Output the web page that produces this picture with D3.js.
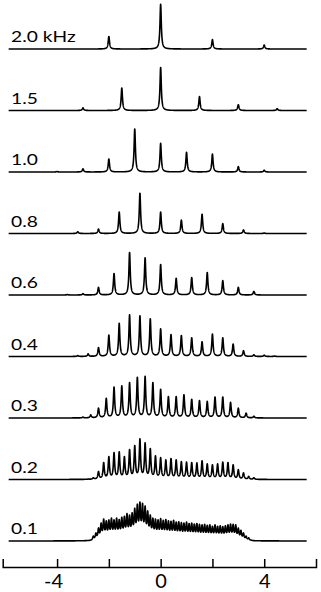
<!DOCTYPE html>
<html>
<head>
<meta charset="utf-8">
<script src="https://cdn.jsdelivr.net/npm/d3@7"></script>
<style>
  body { margin: 0; background: #fff; }
  svg { display: block; }
</style>
</head>
<body>
<div id="chart"></div>
<script>
// spinning rates (kHz), top to bottom, and their labels
const rates = [2.0, 1.5, 1.0, 0.8, 0.6, 0.4, 0.3, 0.2, 0.1];
const labels = ["2.0 kHz", "1.5", "1.0", "0.8", "0.6", "0.4", "0.3", "0.2", "0.1"];

// lowest sideband order shown in each spectrum
const firstOrder = [-1, -2, -4, -4, -6, -8, -10, -14, -27];

// sideband heights (relative, tallest ~100), from the lowest order upward
const h20 = [28, 100, 21, 9];
const h15 = [6, 50, 96, 31, 13, 4];
const h10 = [1, 7, 29, 96, 64, 44, 40, 12, 4];
const h08 = [4, 10, 48, 90, 48, 30, 43, 22, 8, 1];
const h06 = [1, 3, 17, 48, 95, 83, 68, 37, 39, 50, 32, 17, 8];
const h04 = [2, 6, 20, 48, 74, 93, 91, 84, 62, 49, 47, 42, 33, 50, 42, 28, 13, 4, 3, 1];
const h03 = [2, 7, 22, 44, 69, 72, 79, 91, 93, 79, 64, 48, 48, 52, 42, 39, 37, 47, 47, 35, 22, 11, 4];
const h02 = [1, 4, 18, 38, 51, 60, 62, 51, 67, 76, 91, 82, 69, 53, 49, 44, 47, 44, 40, 39, 38, 37, 42,
             35, 33, 35, 39, 38, 33, 22, 15, 7, 4];
const h01 = [2, 11, 18, 29, 40, 49, 45, 47, 51, 47, 51, 48, 53, 55, 61, 58, 63, 73, 82, 87,
             84, 78, 67, 58, 51, 49, 47, 50, 46, 48, 45, 44, 46, 42, 43, 41, 40, 42, 39, 40,
             38, 39, 37, 36, 37, 35, 36, 33, 36, 33, 34, 32, 34, 36, 38, 37, 36, 29, 24, 18,
             11, 7, 2];
const heights = [h20, h15, h10, h08, h06, h04, h03, h02, h01];

const axisTicks = [-4, -2, 0, 2, 4];
const axisLabels = [-4, 0, 4];

const width = 321, height = 592;
const gamma = 0.03; // line half-width, kHz
const span = [-5.87, 5.64];

const svg = d3.select("#chart").append("svg")
    .attr("width", width)
    .attr("height", height);

const x = d3.scaleLinear().domain([-6.1, 6]).range([2.7, 316]);
const base = d3.scalePoint().domain(labels).range([49, 541]);
const amp = d3.scaleLinear().domain([0, 100]).range([0, 45]);

const lor = dx => gamma * gamma / (gamma * gamma + dx * dx);

// adjust amplitudes so the summed lines reach the read peak heights
function fitAmps(pos, target) {
    let a = target.slice();
    for (let it = 0; it < 40; it++) {
        a = a.map((ai, j) => {
            const s = d3.sum(a, (ak, k) => ak * lor(pos[j] - pos[k]));
            return Math.max(0, ai + target[j] - s);
        });
    }
    return a;
}

const xs = d3.range(span[0], span[1], 0.004).concat([span[1]]);

const spectra = rates.map((r, i) => {
    const pos = heights[i].map((_, k) => (firstOrder[i] + k) * r);
    const a = fitAmps(pos, heights[i]);
    const pts = xs.map(v => [v, d3.sum(a, (ak, k) => ak * lor(v - pos[k]))]);
    return { label: labels[i], pts };
});

const g = svg.selectAll("g.spec")
    .data(spectra)
    .enter()
    .append("g")
    .attr("class", "spec");

g.append("path")
    .attr("fill", "none")
    .attr("stroke", "#000")
    .attr("stroke-width", 1.6)
    .attr("stroke-linejoin", "round")
    .attr("d", d => d3.line()
        .x(p => x(p[0]))
        .y(p => base(d.label) - amp(p[1]))(d.pts));

g.append("text")
    .attr("transform", d => `translate(11,${base(d.label) - 7}) scale(1.28,1)`)
    .attr("font-family", "Lato, 'Open Sans', sans-serif")
    .attr("font-size", 15)
    .attr("fill", "#000")
    .text(d => d.label);

// x axis, ticks pointing up
const axisY = 567;
const ax = svg.append("g")
    .attr("transform", `translate(0,${axisY})`)
    .call(d3.axisBottom(x)
        .tickValues(axisTicks)
        .tickSize(-8)
        .tickSizeOuter(-8)
        .tickFormat(d => axisLabels.includes(d) ? String(d) : ""));

ax.select(".domain").attr("stroke", "#000").attr("stroke-width", 1.5);
ax.selectAll(".tick line").attr("stroke", "#000").attr("stroke-width", 1.5);
ax.selectAll(".tick text")
    .attr("y", 21)
    .attr("dy", null)
    .attr("dx", d => d < 0 ? "-0.2em" : null)
    .attr("fill", "#000")
    .attr("font-family", "Lato, 'Open Sans', sans-serif")
    .attr("font-size", 20);
</script>
</body>
</html>
